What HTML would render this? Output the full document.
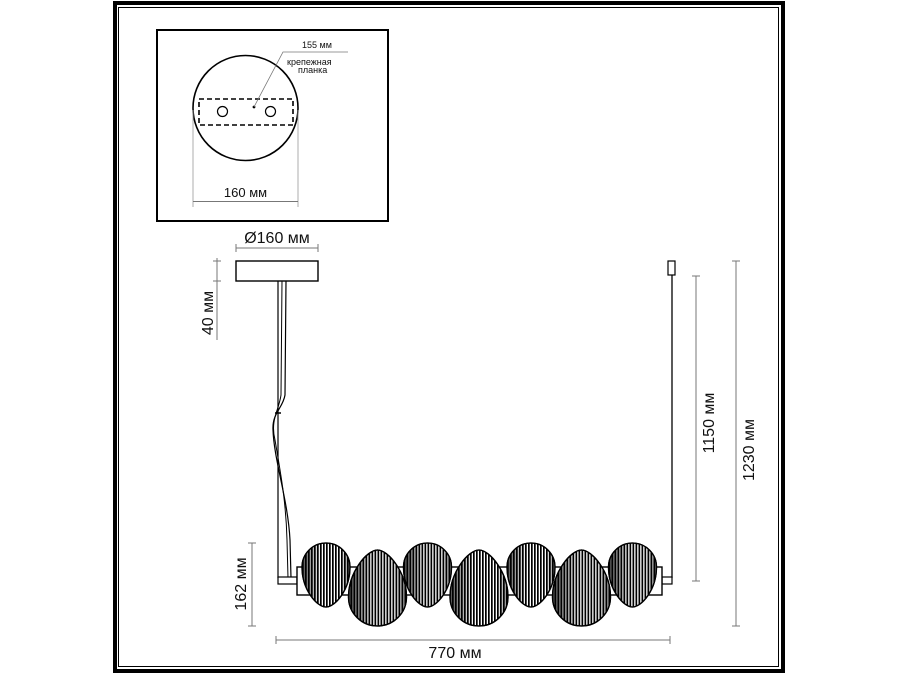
<!DOCTYPE html>
<html><head><meta charset="utf-8"><style>
html,body{margin:0;padding:0;background:#fff}
svg{display:block}
text{font-family:"Liberation Sans",sans-serif;fill:#111}
</style></head><body>
<svg width="900" height="675" viewBox="0 0 900 675" xmlns="http://www.w3.org/2000/svg">
<defs>
<pattern id="st" width="3" height="10" patternUnits="userSpaceOnUse">
<rect width="3" height="10" fill="#fff"/>
<rect x="0" width="1.7" height="10" fill="#000"/>
</pattern>
<linearGradient id="g1" x1="0" x2="1" y1="0" y2="0">
<stop offset="0" stop-color="#000" stop-opacity="0.7"/>
<stop offset="0.4" stop-color="#000" stop-opacity="0"/>
<stop offset="0.8" stop-color="#000" stop-opacity="0"/>
<stop offset="1" stop-color="#000" stop-opacity="0.5"/>
</linearGradient>
<path id="odd" d="M-24,0 A24,24 0 0 1 24,0 C24,23 9,40 0,40 C-9,40 -24,23 -24,0 Z"/>
<path id="even" d="M-29,0 A29,29 0 0 0 29,0 C29,-25 10.5,-47 0,-47 C-10.5,-47 -29,-25 -29,0 Z"/>
</defs>
<rect x="115" y="3" width="668" height="668" fill="none" stroke="#000" stroke-width="4"/>
<rect x="118.5" y="7.5" width="660" height="659" fill="none" stroke="#000" stroke-width="1"/>
<rect x="157" y="30" width="231" height="191" fill="none" stroke="#000" stroke-width="2"/>
<circle cx="245.5" cy="108" r="52.5" fill="none" stroke="#000" stroke-width="1.6"/>
<rect x="199" y="99" width="94" height="26" fill="none" stroke="#000" stroke-width="1.6" stroke-dasharray="5,3"/>
<circle cx="222.5" cy="111.5" r="5" fill="none" stroke="#000" stroke-width="1.2"/>
<circle cx="270.5" cy="111.5" r="5" fill="none" stroke="#000" stroke-width="1.2"/>
<circle cx="254" cy="107" r="1.4" fill="#000"/>
<polyline points="254,107 283,52 348,52" fill="none" stroke="#777" stroke-width="0.8"/>
<text x="302" y="48" font-size="9">155 мм</text>
<text x="287" y="65" font-size="9">крепежная</text>
<text x="298" y="73" font-size="9">планка</text>
<line x1="193" y1="110" x2="193" y2="207" stroke="#999" stroke-width="0.8"/>
<line x1="298" y1="110" x2="298" y2="207" stroke="#999" stroke-width="0.8"/>
<line x1="193" y1="201.5" x2="298" y2="201.5" stroke="#777" stroke-width="0.9"/>
<text x="245.5" y="197" font-size="13" text-anchor="middle">160 мм</text>
<text x="277" y="243" font-size="16" text-anchor="middle">Ø160 мм</text>
<line x1="236" y1="248" x2="318" y2="248" stroke="#777" stroke-width="1"/>
<line x1="236" y1="244" x2="236" y2="252" stroke="#777"/>
<line x1="318" y1="244" x2="318" y2="252" stroke="#777"/>
<rect x="236" y="261" width="82" height="20" fill="#fff" stroke="#000" stroke-width="1.4"/>
<line x1="217" y1="258" x2="217" y2="340" stroke="#777" stroke-width="1"/>
<line x1="213" y1="261" x2="221" y2="261" stroke="#777"/>
<line x1="213" y1="281" x2="221" y2="281" stroke="#777"/>
<text transform="translate(213,313) rotate(-90)" font-size="16" text-anchor="middle">40 мм</text>
<path d="M278,281 L278,578" fill="none" stroke="#000" stroke-width="1.2"/>
<path d="M286,281 L285,395 C283,408 272,413 273,430 C274,460 288,500 290,540 L291,578" fill="none" stroke="#000" stroke-width="1.2"/>
<path d="M282,281 L281,395 C279,410 270,420 275,440 C280,470 286,500 287,540 L288,578" fill="none" stroke="#000" stroke-width="1"/>
<line x1="275" y1="413" x2="281" y2="413" stroke="#000" stroke-width="1.5"/>
<rect x="278" y="577" width="19" height="7" fill="#fff" stroke="#000" stroke-width="1.2"/>
<rect x="668" y="261" width="7" height="14" fill="#fff" stroke="#000" stroke-width="1.2"/>
<line x1="672" y1="275" x2="672" y2="578" stroke="#000" stroke-width="1.3"/>
<rect x="662" y="577" width="10" height="7" fill="#fff" stroke="#000" stroke-width="1.2"/>
<rect x="297" y="567" width="365" height="28" fill="#fff" stroke="#000" stroke-width="1.4"/>
<g stroke="#000" stroke-width="1.3">
<g transform="translate(326,567)"><use href="#odd" fill="url(#st)"/><use href="#odd" fill="url(#g1)"/></g>
<g transform="translate(427.5,567)"><use href="#odd" fill="url(#st)"/><use href="#odd" fill="url(#g1)"/></g>
<g transform="translate(531,567)"><use href="#odd" fill="url(#st)"/><use href="#odd" fill="url(#g1)"/></g>
<g transform="translate(632.5,567)"><use href="#odd" fill="url(#st)"/><use href="#odd" fill="url(#g1)"/></g>
<g transform="translate(377.5,597)"><use href="#even" fill="url(#st)"/><use href="#even" fill="url(#g1)"/></g>
<g transform="translate(479,597)"><use href="#even" fill="url(#st)"/><use href="#even" fill="url(#g1)"/></g>
<g transform="translate(581.5,597)"><use href="#even" fill="url(#st)"/><use href="#even" fill="url(#g1)"/></g>
</g>
<line x1="252" y1="543" x2="252" y2="626" stroke="#777" stroke-width="1"/>
<line x1="248" y1="543" x2="256" y2="543" stroke="#777"/>
<line x1="248" y1="626" x2="256" y2="626" stroke="#777"/>
<text transform="translate(246,584) rotate(-90)" font-size="16" text-anchor="middle">162 мм</text>
<line x1="276" y1="640" x2="670" y2="640" stroke="#777" stroke-width="1"/>
<line x1="276" y1="636" x2="276" y2="644" stroke="#777"/>
<line x1="670" y1="636" x2="670" y2="644" stroke="#777"/>
<text x="455" y="658" font-size="16" text-anchor="middle">770 мм</text>
<line x1="696" y1="276" x2="696" y2="581" stroke="#777" stroke-width="1"/>
<line x1="692" y1="276" x2="700" y2="276" stroke="#777"/>
<line x1="692" y1="581" x2="700" y2="581" stroke="#777"/>
<text transform="translate(714,423) rotate(-90)" font-size="16" text-anchor="middle">1150 мм</text>
<line x1="736" y1="261" x2="736" y2="626" stroke="#777" stroke-width="1"/>
<line x1="732" y1="261" x2="740" y2="261" stroke="#777"/>
<line x1="732" y1="626" x2="740" y2="626" stroke="#777"/>
<text transform="translate(754,450) rotate(-90)" font-size="16" text-anchor="middle">1230 мм</text>
</svg>
</body></html>
